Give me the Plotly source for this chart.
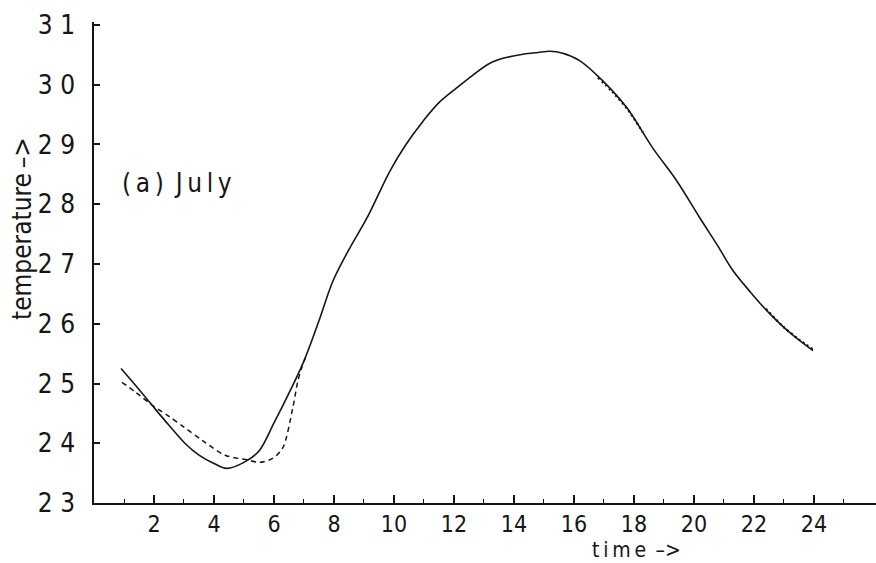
import plotly.graph_objects as go

# --- data ---
solid_time = [0.9, 1.5, 1.93, 2.5, 3.03, 3.5, 4.0, 4.43, 5.0, 5.5, 6.0, 6.5, 6.97,
              7.5, 7.97, 8.53, 9.1, 9.87, 10.4, 10.97, 11.5, 12.1, 12.6, 13.2, 13.7, 14.3, 14.8, 15.2, 15.6,
              16.2, 16.97, 17.77, 18.63, 19.43, 20.2, 20.8, 21.3, 21.9, 22.43, 23.2, 23.97]
solid_temp = [25.25, 24.9, 24.64, 24.3, 24.0, 23.8, 23.66, 23.58, 23.68, 23.87, 24.34, 24.84, 25.34,
              26.05, 26.72, 27.27, 27.77, 28.56, 29.0, 29.39, 29.7, 29.95, 30.15, 30.36, 30.45, 30.51, 30.54, 30.56, 30.53,
              30.4, 30.06, 29.61, 28.94, 28.39, 27.77, 27.3, 26.89, 26.52, 26.22, 25.85, 25.55]

dash_time = [0.93, 1.4, 1.93, 2.5, 3.0, 3.6, 4.37, 5.13, 5.53, 5.97, 6.3, 6.63, 6.8, 6.93, 7.1]
dash_temp = [25.02, 24.85, 24.64, 24.45, 24.27, 24.05, 23.8, 23.72, 23.68, 23.75, 23.93, 24.6, 25.05, 25.27, 25.5]

# short dotted overlays where the curves coincide (thickened parts of the trace)
dot_time = [16.8, 17.3, 17.8, 18.3, None, 22.4, 23.0, 23.5, 23.97]
dot_temp = [30.12, 29.87, 29.58, 29.2, None, 26.25, 25.94, 25.74, 25.57]

x_ticks = [2, 4, 6, 8, 10, 12, 14, 16, 18, 20, 22, 24]
x_minor = [1, 3, 5, 7, 9, 11, 13, 15, 17, 19, 21, 23, 25]
y_ticks = [23, 24, 25, 26, 27, 28, 29, 30, 31]
y_labels = ["2 3", "2 4", "2 5", "2 6", "2 7", "2 8", "2 9", "3 0", "3 1"]

FONT = "DejaVu Sans Condensed, DejaVu Sans, sans-serif"
INK = "#161616"

fig = go.Figure()
fig.add_trace(go.Scatter(x=solid_time, y=solid_temp, mode="lines",
                         line=dict(color=INK, width=1.6, shape="spline", smoothing=1.0),
                         hoverinfo="skip", showlegend=False))
fig.add_trace(go.Scatter(x=dash_time, y=dash_temp, mode="lines",
                         line=dict(color=INK, width=1.5, dash="5px,4px", shape="spline", smoothing=0.8),
                         hoverinfo="skip", showlegend=False))
fig.add_trace(go.Scatter(x=dot_time, y=dot_temp, mode="lines", connectgaps=False,
                         line=dict(color=INK, width=2.2, dash="2px,3px", shape="spline", smoothing=0.8),
                         hoverinfo="skip", showlegend=False))

fig.add_annotation(x=0.85, y=28.35, xref="x", yref="y", xanchor="left", yanchor="middle",
                   text="(\u2009a\u2009)\u2002J\u2009u\u2009l\u2009y", showarrow=False,
                   font=dict(family=FONT, size=26, color=INK))

L, R, T, B = 94, 0, 22, 60
W, H = 876, 563
pw, ph = W - L - R, H - T - B


def px_to_paper(xp, yp):
    return (xp - L) / pw, (H - yp - B) / ph


tx, ty = px_to_paper(636, 550)
fig.add_annotation(x=tx, y=ty, xref="paper", yref="paper", xanchor="center", yanchor="middle",
                   showarrow=False, text="t\u2009i\u2009m\u2009e\u2002–>",
                   font=dict(family=FONT, size=21, color=INK))
yx, yy = px_to_paper(22, 229)
fig.add_annotation(x=yx, y=yy, xref="paper", yref="paper", xanchor="center", yanchor="middle",
                   showarrow=False, textangle=-90, text="temperature\u2009–>",
                   font=dict(family=FONT, size=26, color=INK))

fig.update_layout(
    width=W, height=H,
    margin=dict(l=L, r=R, t=T, b=B),
    paper_bgcolor="white", plot_bgcolor="white",
    font=dict(family=FONT, color=INK),
    xaxis=dict(range=[0, 26.07], showline=True, linecolor=INK, linewidth=1.5,
               showgrid=False, zeroline=False, automargin=False,
               tickmode="array", tickvals=x_ticks, ticktext=[str(v) for v in x_ticks],
               ticks="inside", ticklen=8, tickwidth=1.5, tickcolor=INK,
               tickfont=dict(family=FONT, size=23, color=INK),
               minor=dict(tickmode="array", tickvals=x_minor, ticks="inside",
                          ticklen=4, tickwidth=1.3, tickcolor=INK)),
    yaxis=dict(range=[23, 31.05], showline=True, linecolor=INK, linewidth=1.5,
               showgrid=False, zeroline=False, automargin=False,
               tickmode="array", tickvals=y_ticks, ticktext=y_labels,
               ticks="inside", ticklen=6, tickwidth=1.5, tickcolor=INK,
               tickfont=dict(family=FONT, size=26, color=INK),
               ticklabelstandoff=12),
)

fig.write_html("out.html", config={"displayModeBar": False},
               post_script="document.body.style.margin='0px';")
